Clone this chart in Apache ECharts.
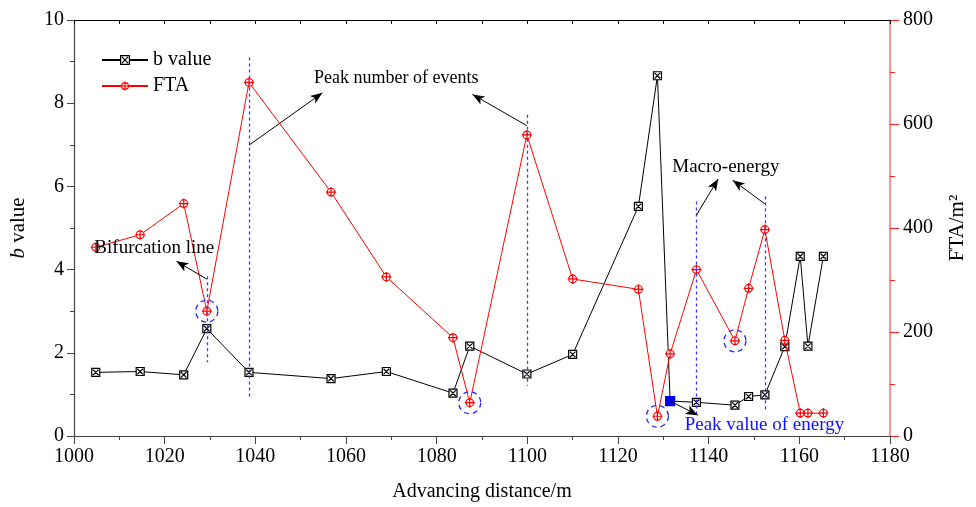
<!DOCTYPE html>
<html>
<head>
<meta charset="utf-8">
<script src="https://cdn.jsdelivr.net/npm/echarts@6/dist/echarts.min.js"></script>
<style>
  html, body { margin: 0; padding: 0; background: #fff; }
  #chart { width: 976px; height: 507px; }
</style>
</head>
<body>
<div id="chart"></div>
<script>
// advancing distance (m)
const distance = [1004.8, 1014.6, 1024.2, 1029.3, 1038.6, 1056.7, 1068.9, 1083.6, 1087.3, 1099.9, 1110.0,
  1124.5, 1128.7, 1131.5, 1137.3, 1145.8, 1148.8, 1152.4, 1156.8, 1160.2, 1161.9, 1165.3];
const bValue = [1.53, 1.55, 1.47, 2.58, 1.53, 1.38, 1.55, 1.03, 2.16, 1.49, 1.96,
  5.52, 8.66, 0.84, 0.81, 0.74, 0.95, 0.99, 2.15, 4.32, 2.16, 4.32];
const fta = [363, 387, 447, 240, 680, 469, 306, 189, 64, 579, 302,
  282, 38, 158, 320, 183, 284, 397, 184, 44, 44, 44];

const xTicks = { min: 1000, max: 1180, step: 20 };
const bTicks = { min: 0, max: 10, step: 2 };
const ftaTicks = { min: 0, max: 800, step: 200 };

// index of the "peak value of energy" point, FTA points that are circled
const peakEnergyIdx = 13;
const circledIdx = [3, 8, 12, 15];

// annotation guides, in b-value axis units
const guideLines = [
  [1029.3, 3.84, 1.77],
  [1038.6, 9.1, 0.9],
  [1099.9, 7.72, 1.21],
  [1137.3, 5.64, 0.49],
  [1152.4, 5.76, 0.61]
];
const arrows = [
  [[1029.3, 3.77], [1022.6, 4.2]],
  [[1038.6, 6.99], [1054.8, 8.25]],
  [[1099.9, 7.46], [1087.9, 8.21]],
  [[1137.3, 5.31], [1142.1, 6.18]],
  [[1152.4, 5.58], [1145.3, 6.15]],
  [[1131.5, 0.84], [1137.6, 0.5]]
];
const notes = [
  { text: 'Bifurcation line', at: [1017.7, 4.53], color: '#000', size: 19 },
  { text: 'Peak number of events', at: [1071.1, 8.61], color: '#000', size: 18 },
  { text: 'Macro-energy', at: [1143.8, 6.47], color: '#000', size: 19 },
  { text: 'Peak value of energy', at: [1152.3, 0.26], color: '#1010ff', size: 19 }
];

const FONT = '"Liberation Serif", "DejaVu Serif", serif';
const boxX = 'path://M0,0 L10,0 L10,10 L0,10 Z M1.5,1.5 L8.5,8.5 M8.5,1.5 L1.5,8.5';
const circPlus = 'path://M5,0 A5,5 0 1,1 5,10 A5,5 0 1,1 5,0 Z M5,-1.5 L5,11.5 M-1.5,5 L11.5,5';

const chart = echarts.init(document.getElementById('chart'));

const bData = distance.map((x, i) => {
  if (i === peakEnergyIdx) {
    return { value: [x, bValue[i]], symbol: 'rect', symbolSize: 9,
      itemStyle: { color: '#0000ee', borderColor: '#0000ee' } };
  }
  return [x, bValue[i]];
});
const ftaData = distance.map((x, i) => [x, fta[i]]);

const lineData = guideLines.map(g => [
  { coord: [g[0], g[1]], symbol: 'none' },
  { coord: [g[0], g[2]], symbol: 'none' }
]);
const arrowData = arrows.map(a => [
  { coord: a[0], symbol: 'none', lineStyle: { color: '#000', type: 'solid', width: 1 } },
  { coord: a[1], symbol: 'arrow', symbolSize: [7, 12] }
]);

const option = {
  animation: false,
  grid: { left: 73, right: 83, top: 20, bottom: 70 },
  legend: {
    orient: 'vertical',
    left: 96,
    top: 45,
    itemWidth: 46,
    itemHeight: 11,
    itemGap: 6,
    textStyle: { fontFamily: FONT, fontSize: 20, color: '#000' },
    data: [
      { name: 'b value', itemStyle: { color: '#fff', borderColor: '#000', borderWidth: 1.2 } },
      { name: 'FTA', itemStyle: { color: '#fff', borderColor: '#ff0000', borderWidth: 1.2 } }
    ]
  },
  xAxis: [
    {
      type: 'value',
      min: xTicks.min, max: xTicks.max, interval: xTicks.step,
      name: 'Advancing distance/m',
      nameLocation: 'middle',
      nameGap: 46,
      nameTextStyle: { fontFamily: FONT, fontSize: 20, color: '#000' },
      axisLine: { lineStyle: { color: '#444', width: 1.2 } },
      axisTick: { length: 8, lineStyle: { color: '#444' } },
      minorTick: { show: true, splitNumber: 2, length: 4, lineStyle: { color: '#444' } },
      axisLabel: { fontFamily: FONT, fontSize: 20, color: '#000', margin: 11, formatter: v => String(v) },
      splitLine: { show: false }
    },
    {
      type: 'value',
      position: 'top',
      min: xTicks.min, max: xTicks.max, interval: xTicks.step,
      axisLine: { show: true, onZero: false, lineStyle: { color: '#000', width: 1 } },
      axisTick: { inside: true, length: 4, lineStyle: { color: '#000' } },
      minorTick: { show: true, splitNumber: 2, length: 4, lineStyle: { color: '#000' } },
      axisLabel: { show: false },
      splitLine: { show: false }
    }
  ],
  yAxis: [
    {
      type: 'value',
      min: bTicks.min, max: bTicks.max, interval: bTicks.step,
      name: '{i|b} value',
      nameLocation: 'middle',
      nameGap: 45,
      nameTextStyle: {
        fontFamily: FONT, fontSize: 21, color: '#000',
        rich: { i: { fontFamily: FONT, fontSize: 21, fontStyle: 'italic', color: '#000' } }
      },
      axisLine: { show: true, lineStyle: { color: '#444', width: 1.2 } },
      axisTick: { length: 7, lineStyle: { color: '#444' } },
      minorTick: { show: true, splitNumber: 2, length: 4, lineStyle: { color: '#444' } },
      axisLabel: { fontFamily: FONT, fontSize: 20, color: '#000', margin: 10 },
      splitLine: { show: false }
    },
    {
      type: 'value',
      position: 'right',
      min: ftaTicks.min, max: ftaTicks.max, interval: ftaTicks.step,
      name: 'FTA/m²',
      nameLocation: 'middle',
      nameGap: 57,
      nameTextStyle: { fontFamily: FONT, fontSize: 21, color: '#000' },
      axisLine: { show: true, lineStyle: { color: 'rgba(255,60,60,0.75)', width: 1.5 } },
      axisTick: { length: 9, lineStyle: { color: '#ff2020' } },
      minorTick: { show: true, splitNumber: 2, length: 5, lineStyle: { color: '#ff2020' } },
      axisLabel: { fontFamily: FONT, fontSize: 20, color: '#000', margin: 13 },
      splitLine: { show: false }
    }
  ],
  series: [
    {
      name: 'b value',
      type: 'line',
      xAxisIndex: 0,
      yAxisIndex: 0,
      data: bData,
      symbol: boxX,
      symbolSize: 8,
      lineStyle: { color: '#000', width: 1 },
      itemStyle: { color: '#fff', borderColor: '#000', borderWidth: 1.2 },
      z: 3,
      markLine: {
        silent: true,
        symbol: ['none', 'none'],
        label: { show: false },
        lineStyle: { color: '#3a3aff', type: [3, 3], width: 1.3 },
        emphasis: { disabled: true },
        data: lineData.concat(arrowData)
      }
    },
    {
      name: 'FTA',
      type: 'line',
      xAxisIndex: 0,
      yAxisIndex: 1,
      data: ftaData,
      symbol: circPlus,
      symbolSize: 10,
      lineStyle: { color: '#ff0000', width: 1 },
      itemStyle: { color: '#fff', borderColor: '#ff0000', borderWidth: 1.2 },
      z: 4,
      markPoint: {
        silent: true,
        symbol: 'circle',
        symbolSize: 22,
        label: { show: false },
        itemStyle: { color: 'rgba(0,0,0,0)', borderColor: '#2020ff', borderWidth: 1.3, borderType: [5, 4] },
        data: circledIdx.map(i => ({ coord: [distance[i], fta[i]] }))
      }
    }
  ]
};

chart.setOption(option);

// annotation texts placed through the axes
chart.setOption({
  graphic: notes.map(n => {
    const p = chart.convertToPixel({ xAxisIndex: 0, yAxisIndex: 0 }, n.at);
    return {
      type: 'text',
      x: p[0], y: p[1],
      z: 10,
      style: {
        text: n.text, fill: n.color, font: n.size + 'px ' + FONT,
        align: 'center', verticalAlign: 'middle'
      }
    };
  })
});
</script>
</body>
</html>
